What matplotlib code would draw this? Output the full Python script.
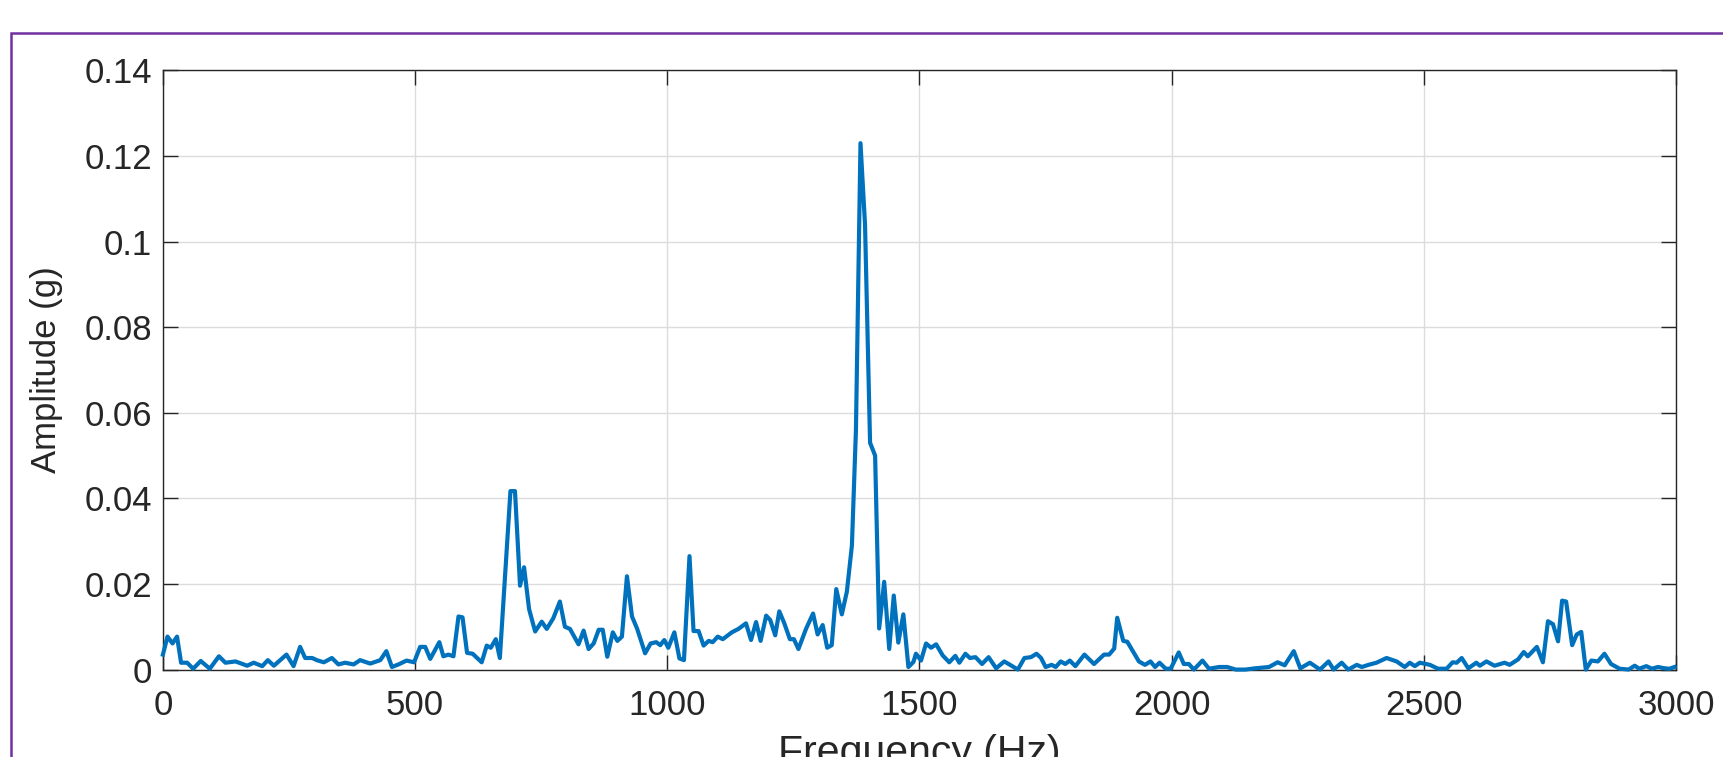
import matplotlib
matplotlib.use('Agg')
import matplotlib.pyplot as plt
from matplotlib.patches import Rectangle

# spectrum: frequency (Hz) and amplitude (g)
freq = [0, 9, 19, 28, 36, 48, 60, 75, 93, 111, 124, 144, 167, 180, 197, 208, 220,
        245, 259, 272, 282, 296, 305, 319, 335, 348, 361, 378, 391, 411, 431, 443,
        454, 467, 483, 498, 510, 520, 530, 548, 556, 566, 576, 586, 594, 603, 614,
        632, 642, 650, 660, 668, 689, 698, 708, 716, 726, 738, 751, 761, 774, 787,
        797, 807, 824, 834, 844, 854, 864, 872, 881, 892, 901, 910, 920, 930, 940,
        956, 967, 978, 986, 994, 1002, 1014, 1024, 1033, 1044, 1052, 1062, 1072,
        1082, 1090, 1100, 1110, 1128, 1141, 1156, 1166, 1176, 1185, 1196, 1204,
        1214, 1222, 1232, 1243, 1251, 1260, 1275, 1289, 1298, 1308, 1317, 1326,
        1335, 1346, 1356, 1366, 1374, 1383, 1392, 1402, 1412, 1420, 1430, 1440,
        1449, 1458, 1468, 1478, 1488, 1493, 1503, 1513, 1523, 1533, 1546, 1559,
        1571, 1579, 1591, 1600, 1611, 1624, 1637, 1652, 1668, 1681, 1695, 1708,
        1721, 1732, 1741, 1750, 1762, 1770, 1780, 1789, 1798, 1809, 1827, 1846,
        1866, 1876, 1886, 1892, 1904, 1912, 1922, 1935, 1947, 1958, 1967, 1976,
        1988, 1998, 2014, 2024, 2034, 2044, 2061, 2074, 2094, 2110, 2127, 2146,
        2166, 2193, 2210, 2224, 2242, 2255, 2274, 2294, 2311, 2321, 2337, 2350,
        2367, 2377, 2390, 2406, 2426, 2446, 2462, 2472, 2482, 2492, 2512, 2528,
        2545, 2557, 2565, 2575, 2588, 2604, 2611, 2624, 2640, 2660, 2670, 2687,
        2698, 2706, 2724, 2736, 2746, 2756, 2766, 2774, 2782, 2794, 2803, 2812,
        2821, 2832, 2845, 2858, 2871, 2888, 2906, 2918, 2927, 2941, 2952, 2964,
        2977, 2987, 2997]
amp = [0.0035, 0.0077, 0.0061, 0.0077, 0.0016, 0.0016, 0.0002, 0.0020, 0.0002,
       0.0031, 0.0016, 0.0019, 0.0009, 0.0016, 0.0008, 0.0022, 0.0009, 0.0035,
       0.0008, 0.0053, 0.0027, 0.0027, 0.0022, 0.0017, 0.0027, 0.0012, 0.0016,
       0.0012, 0.0022, 0.0014, 0.0022, 0.0043, 0.0006, 0.0012, 0.0021, 0.0017,
       0.0053, 0.0053, 0.0025, 0.0064, 0.0031, 0.0035, 0.0031, 0.0124, 0.0122,
       0.0039, 0.0037, 0.0017, 0.0056, 0.0051, 0.0071, 0.0027, 0.0417, 0.0417,
       0.0196, 0.0239, 0.0141, 0.0089, 0.0112, 0.0095, 0.0120, 0.0159, 0.0100,
       0.0095, 0.0059, 0.0091, 0.0048, 0.0061, 0.0093, 0.0093, 0.0030, 0.0087,
       0.0067, 0.0077, 0.0218, 0.0124, 0.0096, 0.0038, 0.0061, 0.0064, 0.0057,
       0.0069, 0.0051, 0.0087, 0.0026, 0.0022, 0.0265, 0.0090, 0.0090, 0.0056,
       0.0067, 0.0064, 0.0077, 0.0071, 0.0087, 0.0095, 0.0108, 0.0069, 0.0111,
       0.0067, 0.0126, 0.0116, 0.0080, 0.0136, 0.0108, 0.0071, 0.0071, 0.0048,
       0.0095, 0.0131, 0.0082, 0.0104, 0.0051, 0.0057, 0.0188, 0.0129, 0.0182,
       0.0290, 0.0560, 0.1230, 0.1040, 0.0530, 0.0500, 0.0096, 0.0205, 0.0048,
       0.0173, 0.0063, 0.0129, 0.0006, 0.0018, 0.0037, 0.0021, 0.0061, 0.0051,
       0.0059, 0.0033, 0.0017, 0.0032, 0.0016, 0.0037, 0.0027, 0.0029, 0.0013,
       0.0029, 0.0003, 0.0019, 0.0010, 0.0000, 0.0027, 0.0029, 0.0037, 0.0027,
       0.0006, 0.0011, 0.0006, 0.0019, 0.0013, 0.0021, 0.0008, 0.0035, 0.0013,
       0.0035, 0.0035, 0.0049, 0.0121, 0.0067, 0.0065, 0.0045, 0.0019, 0.0011,
       0.0019, 0.0006, 0.0016, 0.0002, 0.0002, 0.0040, 0.0013, 0.0013, 0.0000,
       0.0021, 0.0002, 0.0006, 0.0006, 0.0000, 0.0000, 0.0003, 0.0006, 0.0017,
       0.0010, 0.0043, 0.0003, 0.0016, 0.0000, 0.0019, 0.0000, 0.0016, 0.0000,
       0.0011, 0.0006, 0.0011, 0.0016, 0.0027, 0.0019, 0.0006, 0.0016, 0.0008,
       0.0016, 0.0011, 0.0002, 0.0002, 0.0017, 0.0016, 0.0027, 0.0003, 0.0016,
       0.0009, 0.0019, 0.0009, 0.0016, 0.0011, 0.0024, 0.0041, 0.0031, 0.0053,
       0.0017, 0.0113, 0.0106, 0.0066, 0.0161, 0.0159, 0.0057, 0.0082, 0.0088,
       0.0000, 0.0021, 0.0019, 0.0037, 0.0013, 0.0002, 0.0000, 0.0009, 0.0002,
       0.0008, 0.0002, 0.0006, 0.0003, 0.0002, 0.0006]

x_ticks = [0, 500, 1000, 1500, 2000, 2500, 3000]
y_ticks = [0, 0.02, 0.04, 0.06, 0.08, 0.1, 0.12, 0.14]
y_tick_labels = ['0', '0.02', '0.04', '0.06', '0.08', '0.1', '0.12', '0.14']

plt.rcParams['font.family'] = ['Liberation Sans', 'DejaVu Sans']
text_color = '#262626'

fig = plt.figure(figsize=(17.24, 7.57), dpi=100)
ax = fig.add_axes([0.0945, 0.1155, 0.8777, 0.7915])

ax.plot(freq, amp, color='#0072BD', linewidth=3.0, clip_on=False, zorder=3)

ax.set_xlim(0, 3000)
ax.set_ylim(0, 0.14)
ax.set_xticks(x_ticks)
ax.set_yticks(y_ticks)
ax.set_yticklabels(y_tick_labels)
ax.grid(True, color='#dcdcdc', linewidth=1.0)
ax.set_axisbelow(True)

ax.tick_params(direction='in', length=10.5, width=1.0, colors=text_color,
               labelsize=25, top=True, right=True)
ax.tick_params(axis='x', pad=14)
ax.tick_params(axis='y', pad=8)
for s in ax.spines.values():
    s.set_color(text_color)
    s.set_linewidth(1.0)

# the x label runs off the bottom edge, as in the original screenshot
ax.set_xlabel('Frequency (Hz)', fontsize=29.5, color=text_color)
ax.set_ylabel('Amplitude (g)', fontsize=25, color=text_color)
ax.xaxis.set_label_coords(0.5, -0.108)
ax.yaxis.set_label_coords(-0.066, 0.5)

# purple frame around the figure content (runs off the right and bottom)
fig.patches.append(Rectangle((0.0064, -0.2), 1.2, 1.1564, transform=fig.transFigure,
                             fill=False, edgecolor='#7030A0', linewidth=1.8))

fig.savefig('out.png', dpi=100)
